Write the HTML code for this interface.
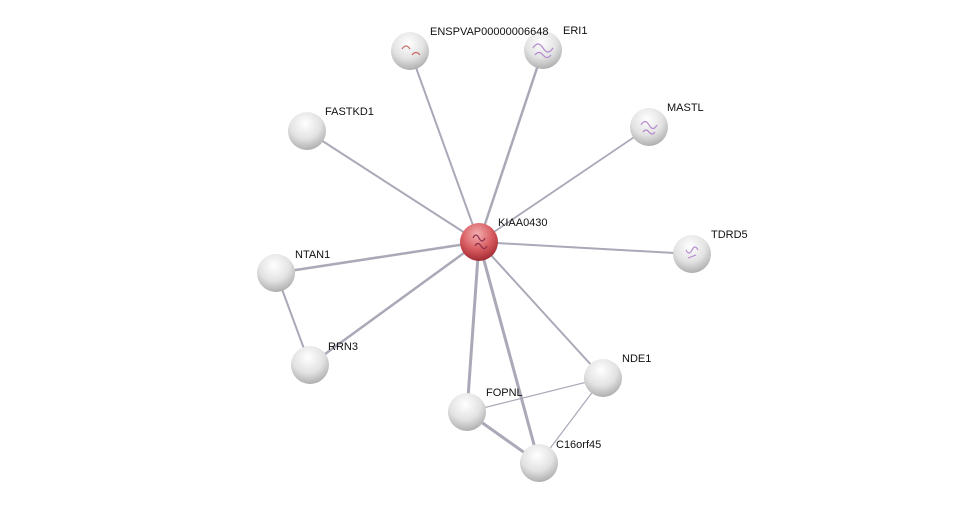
<!DOCTYPE html>
<html><head><meta charset="utf-8"><style>
html,body{margin:0;padding:0;background:#fff;width:976px;height:509px;overflow:hidden}
text{font-family:"Liberation Sans",Arial,sans-serif;font-size:11px;fill:#111}
</style></head><body>
<svg width="976" height="509" viewBox="0 0 976 509" xmlns="http://www.w3.org/2000/svg">
<defs>
<radialGradient id="g" cx="0.45" cy="0.3" r="0.75">
<stop offset="0" stop-color="#ffffff"/><stop offset="0.55" stop-color="#e2e2e2"/><stop offset="0.9" stop-color="#b4b4b4"/><stop offset="1" stop-color="#8c8c8c"/>
</radialGradient>
<radialGradient id="r" cx="0.45" cy="0.3" r="0.75">
<stop offset="0" stop-color="#f3b0b0"/><stop offset="0.55" stop-color="#d65a5f"/><stop offset="0.9" stop-color="#a83038"/><stop offset="1" stop-color="#80202a"/>
</radialGradient>
</defs>
<g stroke="#a9a9b8" stroke-linecap="round">
<line x1="479" y1="242" x2="410" y2="51" stroke-width="2"/>
<line x1="479" y1="242" x2="543" y2="50" stroke-width="2.5"/>
<line x1="479" y1="242" x2="307" y2="131" stroke-width="2"/>
<line x1="479" y1="242" x2="649" y2="127" stroke-width="1.8"/>
<line x1="479" y1="242" x2="692" y2="254" stroke-width="2"/>
<line x1="479" y1="242" x2="276" y2="273" stroke-width="2.5"/>
<line x1="479" y1="242" x2="310" y2="365" stroke-width="2.5"/>
<line x1="479" y1="242" x2="603" y2="378" stroke-width="2"/>
<line x1="479" y1="242" x2="467" y2="412" stroke-width="3"/>
<line x1="479" y1="242" x2="539" y2="463" stroke-width="3"/>
<line x1="276" y1="273" x2="310" y2="365" stroke-width="2"/>
<line x1="467" y1="412" x2="603" y2="378" stroke-width="1.2"/>
<line x1="603" y1="378" x2="539" y2="463" stroke-width="1.2"/>
<line x1="467" y1="412" x2="539" y2="463" stroke-width="3"/>
</g>
<g>
<circle cx="410" cy="51" r="19" fill="url(#g)"/>
<circle cx="543" cy="50" r="19" fill="url(#g)"/>
<circle cx="307" cy="131" r="19" fill="url(#g)"/>
<circle cx="649" cy="127" r="19" fill="url(#g)"/>
<circle cx="692" cy="254" r="19" fill="url(#g)"/>
<circle cx="276" cy="273" r="19" fill="url(#g)"/>
<circle cx="310" cy="365" r="19" fill="url(#g)"/>
<circle cx="603" cy="378" r="19" fill="url(#g)"/>
<circle cx="467" cy="412" r="19" fill="url(#g)"/>
<circle cx="539" cy="463" r="19" fill="url(#g)"/>
<circle cx="479" cy="242" r="19" fill="url(#r)"/>
</g>
<g fill="none" stroke="#b58ad0" stroke-width="1.2">
<path d="M533 48 q5 -8 10 0 t10 0 M535 55 q4 -5 8 0 t8 0"/>
<path d="M641 125 q4 -7 8 0 t8 0 M643 132 q3 -4 6 0 t6 0"/>
<path d="M686 250 q3 6 6 0 t6 0 M688 258 l8 -3"/>
<path d="M402 49 q4 -6 8 0 M412 55 q4 -5 8 0" stroke="#c96a6a"/>
<path d="M473 238 q3 -6 6 0 t6 0 M475 246 q3 -5 6 0 t6 0" stroke="#8a2a4a"/>
</g>
<text x="498" y="226">KIAA0430</text>
<text x="430" y="35">ENSPVAP00000006648</text>
<text x="563" y="34">ERI1</text>
<text x="325" y="115">FASTKD1</text>
<text x="667" y="111">MASTL</text>
<text x="711" y="238">TDRD5</text>
<text x="295" y="258">NTAN1</text>
<text x="328" y="350">RRN3</text>
<text x="622" y="362">NDE1</text>
<text x="486" y="396">FOPNL</text>
<text x="556" y="448">C16orf45</text>
</svg>
</body></html>
